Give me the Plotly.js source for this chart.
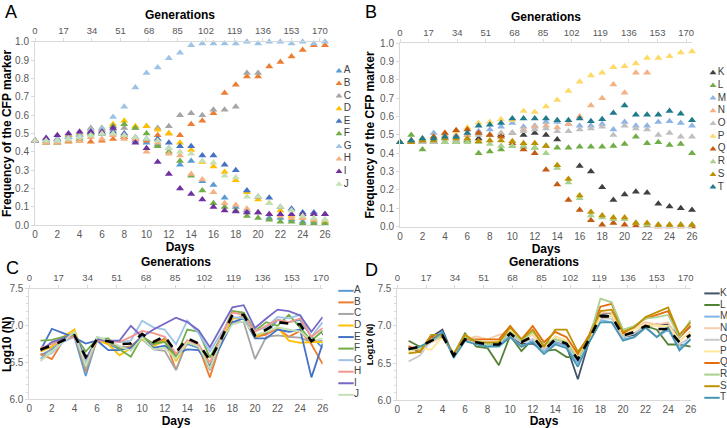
<!DOCTYPE html>
<html>
<head>
<meta charset="utf-8">
<script src="https://cdn.plot.ly/plotly-3.0.1.min.js"></script>
<style>
  body { margin: 0; background: #fff; }
  #chart { width: 727px; height: 428px; }
</style>
</head>
<body>
<div id="chart"></div>
<script>
// sampling days and the generation ticks on the top axes
const days = [0,1,2,3,4,5,6,7,8,9,10,11,12,13,14,15,16,17,18,19,20,21,22,23,24,25,26]
const logDays = [1,2,3,4,5,6,7,8,9,10,11,12,13,14,15,16,17,18,19,20,21,22,23,24,25,26]
const genTicks = [0,17,34,51,68,85,102,119,136,153,170]
const dayTicks = [0,2,4,6,8,10,12,14,16,18,20,22,24,26]

const popsAJ = ['A','B','C','D','E','F','G','H','I','J']
const popsKT = ['K','L','M','N','O','P','Q','R','S','T']

// frequency of the CFP marker, populations A-J
const freq_A = [0.46,0.47,0.46,0.48,0.48,0.50,0.50,0.50,0.48,0.46,0.45,0.44,0.42,0.33,0.35,0.24,0.22,0.15,0.10,0.08,0.07,0.04,0.04,0.03,0.02,0.02,0.02]
const freq_B = [0.46,0.45,0.45,0.455,0.46,0.455,0.46,0.47,0.48,0.47,0.46,0.49,0.50,0.49,0.55,0.57,0.61,0.72,0.765,0.81,0.81,0.865,0.89,0.92,0.955,0.98,0.98]
const freq_C = [0.46,0.47,0.47,0.49,0.50,0.53,0.52,0.52,0.53,0.53,0.54,0.53,0.54,0.60,0.61,0.60,0.63,0.63,0.645,0.83,0.83,null,null,null,null,null,null]
const freq_D = [0.46,0.46,0.47,0.49,0.50,0.52,0.53,0.55,0.57,0.54,0.54,0.52,0.50,0.45,0.41,0.345,0.32,0.29,0.245,0.18,0.14,0.12,0.08,0.05,0.04,0.03,0.02]
const freq_E = [0.46,0.46,0.47,0.48,0.49,0.51,0.50,0.51,0.50,0.48,0.47,0.47,0.45,0.43,0.43,0.38,0.38,0.33,0.30,0.19,0.155,0.15,0.10,0.09,0.07,0.07,0.06]
const freq_F = [0.46,0.45,0.45,0.46,0.47,0.50,0.50,0.54,0.55,0.53,0.50,0.43,0.40,0.35,0.27,0.19,0.12,0.10,0.08,0.05,0.04,0.03,0.02,0.02,0.01,0.01,0.01]
const freq_G = [0.46,0.47,0.47,0.48,0.49,0.52,0.53,0.59,0.645,0.75,0.83,0.86,0.91,0.94,0.98,0.99,0.99,0.99,0.99,1.0,0.99,1.0,1.0,0.99,1.0,0.99,1.0]
const freq_H = [0.46,0.45,0.45,0.46,0.46,0.48,0.47,0.49,0.47,0.47,0.40,0.45,0.39,0.38,0.28,0.25,0.18,0.12,0.11,0.09,0.07,0.06,0.05,0.04,0.04,0.03,0.03]
const freq_I = [0.46,0.475,0.49,0.50,0.51,0.51,0.51,0.53,0.49,0.45,0.42,0.345,0.28,0.20,0.17,0.14,0.10,0.08,0.075,0.07,0.07,0.06,0.06,0.06,0.06,0.06,0.06]
const freq_J = [0.46,0.46,0.46,0.47,0.48,0.49,0.50,0.50,0.49,0.48,0.47,0.46,0.42,0.40,0.39,0.35,0.34,0.27,0.26,0.155,0.155,0.12,0.10,0.08,0.05,0.04,0.03]

// frequency of the CFP marker, populations K-T
const freq_K = [0.46,0.46,0.46,0.46,0.46,0.46,0.47,0.48,0.50,0.50,0.51,0.50,0.51,0.50,0.475,null,0.33,0.30,0.215,0.145,0.175,0.19,0.185,0.125,0.11,0.10,0.09]
const freq_L = [0.46,0.50,0.42,0.46,0.46,0.47,0.47,0.40,0.41,0.42,0.44,0.435,0.43,0.44,0.43,0.43,0.435,0.435,0.435,0.44,0.45,0.49,0.455,0.46,0.445,0.45,0.40]
const freq_M = [0.46,0.47,0.47,0.51,0.48,0.49,0.50,0.52,0.53,0.545,0.565,0.545,0.55,0.57,0.57,0.56,0.55,0.55,0.56,0.53,0.57,0.55,0.55,0.57,0.575,0.565,0.55]
const freq_N = [0.46,0.47,0.47,0.48,0.50,0.50,0.50,0.51,0.50,0.51,0.51,0.53,0.545,0.55,0.54,0.56,0.60,0.66,0.70,0.775,0.73,0.84,0.84,null,null,null,null]
const freq_O = [0.46,0.46,0.46,0.46,0.46,0.47,0.48,0.50,0.50,0.51,0.51,0.52,0.53,0.535,0.52,0.52,0.53,0.535,0.545,0.50,0.55,0.535,0.53,0.50,0.51,0.49,0.49]
const freq_P = [0.46,0.47,0.48,0.49,0.51,0.52,0.54,0.565,0.57,0.585,0.58,0.63,0.625,0.655,0.69,0.74,0.79,0.825,0.84,0.87,0.875,0.89,0.92,0.92,0.93,0.95,0.955]
const freq_Q = [0.46,0.47,0.47,0.49,0.51,0.525,0.53,0.51,0.50,0.49,0.455,0.42,0.40,0.31,0.23,0.145,0.09,0.035,0.01,0.02,0.01,0.005,0.005,0,0,0,0]
const freq_R = [0.46,0.47,0.47,0.47,0.46,0.46,0.46,0.46,0.45,0.44,0.44,0.44,0.43,0.40,0.32,0.24,0.155,0.06,0.05,0.04,0.04,0.02,0.01,0.01,0.01,0.01,0.01]
const freq_S = [0.46,0.46,0.47,0.47,0.48,0.48,0.48,0.465,0.47,0.47,0.465,0.455,0.455,0.44,0.335,0.26,0.17,0.08,0.06,0.05,0.05,0.02,0.02,0.01,0.01,0.01,0.01]
const freq_T = [0.46,0.47,0.48,0.48,0.49,0.49,0.51,0.55,0.555,0.565,0.59,0.59,0.59,0.59,0.58,0.58,0.59,0.575,0.585,0.62,0.66,0.61,0.61,0.61,0.63,0.615,0.58]

// Log10 (N), populations A-J, days 1-26
const logN_A = [6.60,6.68,6.82,6.85,6.32,6.82,6.75,6.68,6.72,6.86,6.74,6.83,6.60,6.75,6.70,6.42,6.75,7.10,7.12,6.85,6.90,7.08,7.05,7.08,6.85,6.70]
const logN_B = [6.62,6.55,6.80,6.90,6.38,6.82,6.78,6.70,6.72,6.85,6.76,6.82,6.40,6.80,6.72,6.30,6.78,7.10,7.12,6.85,6.88,6.97,6.85,6.93,6.75,6.48]
const logN_C = [6.55,6.70,6.80,6.92,6.40,6.80,6.78,6.72,6.70,6.82,6.68,6.66,6.40,6.78,6.72,6.40,6.75,7.05,7.05,6.55,6.85,6.87,6.85,6.84,6.78,6.80]
const logN_D = [6.65,6.72,6.85,6.95,6.50,6.80,6.75,6.60,6.70,6.82,6.72,6.80,6.52,6.78,6.72,6.45,6.78,7.10,7.10,6.85,6.92,6.98,6.80,6.77,6.78,6.78]
const logN_E = [6.67,6.96,6.90,6.84,6.76,6.80,6.67,6.67,6.70,6.85,6.70,6.73,6.62,6.68,6.67,6.45,6.75,7.05,7.10,6.83,6.83,6.95,6.92,6.95,6.30,6.76]
const logN_F = [6.80,6.81,6.85,6.88,6.65,6.82,6.83,6.68,6.58,6.85,6.76,6.78,6.58,6.95,6.92,6.57,6.85,7.20,7.18,6.93,7.05,7.00,7.15,6.98,6.80,6.93]
const logN_G = [6.55,6.63,6.78,6.85,6.50,6.85,6.80,6.78,6.80,7.07,6.98,6.95,6.75,7.07,6.90,6.65,6.90,7.12,7.10,6.93,6.98,7.12,7.10,7.15,6.85,7.05]
const logN_H = [6.70,6.75,6.82,6.85,6.55,6.80,6.80,6.78,6.85,6.93,6.90,6.85,6.62,6.80,6.75,6.50,6.85,7.18,7.15,6.92,7.00,7.08,7.05,7.10,6.85,6.97]
const logN_I = [6.66,6.78,6.83,6.90,6.55,6.82,6.80,6.80,7.00,6.85,6.95,7.03,7.11,7.05,6.94,6.71,6.98,7.25,7.28,6.97,7.10,7.22,7.20,7.14,6.92,7.12]
const logN_J = [6.52,6.65,6.78,6.92,6.45,6.85,6.80,6.72,6.66,6.84,6.68,6.70,6.55,6.78,6.72,6.42,6.80,7.02,7.06,6.88,6.92,6.98,6.95,6.92,6.80,6.83]
const meanAJ = [6.68,6.73,6.80,6.87,6.58,6.82,6.79,6.75,6.76,6.89,6.78,6.86,6.64,6.83,6.76,6.53,6.82,7.15,7.15,6.87,6.95,7.05,7.03,7.02,6.79,6.89]

// Log10 (N), populations K-T, days 1-26
const logN_K = [6.70,6.65,6.85,6.95,6.58,6.85,6.78,6.75,6.73,6.88,6.76,6.76,6.67,6.78,6.73,6.28,6.80,7.15,7.18,6.85,6.88,7.00,7.02,7.02,6.85,7.00]
const logN_L = [6.80,6.72,6.80,6.85,6.62,6.90,6.72,6.70,6.47,6.87,6.66,6.82,6.66,6.68,6.58,6.58,6.78,7.10,7.15,6.88,6.90,7.00,6.95,6.75,6.75,6.72]
const logN_M = [6.68,6.70,6.78,6.88,6.58,6.80,6.76,6.72,6.75,6.85,6.72,6.80,6.65,6.78,6.72,6.50,6.80,7.08,7.05,6.82,6.85,6.98,6.85,6.95,6.70,6.82]
const logN_N = [6.72,6.70,6.78,6.85,6.62,6.82,6.86,6.82,6.88,6.92,6.80,6.88,6.70,6.86,6.80,6.58,6.85,7.18,7.18,6.90,6.98,7.05,7.02,7.05,6.80,6.92]
const logN_O = [6.52,6.60,6.80,6.88,6.60,6.80,6.78,6.75,6.78,6.88,6.78,6.82,6.68,6.82,6.75,6.55,6.80,7.10,7.10,6.85,6.90,7.00,6.85,7.00,6.75,6.85]
const logN_P = [6.65,6.70,6.68,6.85,6.62,6.88,6.80,6.78,6.80,6.95,6.80,6.90,6.72,6.85,6.80,6.58,6.82,7.12,7.15,6.88,6.95,7.02,7.00,7.00,6.80,6.92]
const logN_Q = [6.73,6.65,6.85,6.85,6.62,6.82,6.82,6.82,6.82,7.00,6.82,7.00,6.78,6.92,6.85,6.62,6.88,7.26,7.30,6.90,7.00,7.10,7.15,7.20,6.85,7.00]
const logN_R = [6.70,6.68,6.80,6.87,6.60,6.85,6.80,6.75,6.78,6.92,6.80,6.92,6.75,6.82,6.78,6.55,6.82,7.37,7.32,6.95,7.00,7.10,7.12,7.15,6.85,7.08]
const logN_S = [6.63,6.65,6.88,6.88,6.62,6.88,6.78,6.78,6.78,6.98,6.82,6.95,6.72,6.95,6.95,6.65,6.85,7.20,7.22,6.92,6.98,7.12,7.18,7.25,6.88,7.05]
const logN_T = [6.68,6.72,6.80,6.92,6.57,6.80,6.75,6.72,6.72,6.85,6.72,6.78,6.62,6.75,6.70,6.45,6.78,7.05,7.05,6.80,6.85,6.98,6.85,6.98,6.67,6.82]
const meanKT = [6.69,6.72,6.80,6.87,6.60,6.82,6.78,6.75,6.75,6.90,6.78,6.86,6.67,6.82,6.76,6.55,6.82,7.13,7.13,6.87,6.92,7.00,6.96,6.96,6.78,6.88]

const colorsA = ['#5b9bd5','#ed7d31','#a5a5a5','#ffc000','#4472c4','#70ad47','#9dc3e6','#f4b183','#7030a0','#c5e0b4']
const colorsB = ['#404040','#70ad47','#8fb4e3','#f4b183','#bfbfbf','#ffd966','#c55a11','#a9d18e','#bf9000','#1f7a8c']
const colorsC = ['#5b9bd5','#ed7d31','#a5a5a5','#ffc000','#4472c4','#70ad47','#9dc3e6','#f4978e','#7469c7','#c5e0b4']
const colorsD = ['#44546a','#548235','#7fb6e8','#f8cbad','#c9c9c9','#ffe699','#e46c0a','#a9d18e','#bf9000','#4596b0']

const FONT = 'Liberation Sans, Arial, sans-serif'
const AXIS_GREY = '#d9d9d9'
const TICK_GREY = '#595959'

function markerTraces(names, series, colors, xa, ya) {
  return names.map((name, i) => ({
    type: 'scatter', mode: 'markers', name, x: days, y: series[i],
    xaxis: xa, yaxis: ya, showlegend: false, cliponaxis: false, hoverinfo: 'skip',
    marker: {symbol: 'triangle-up', size: 7, color: colors[i], line: {width: 0}}
  }))
}

function lineTraces(names, series, colors, mean, xa, ya) {
  const t = names.map((name, i) => ({
    type: 'scatter', mode: 'lines', name, x: logDays, y: series[i],
    xaxis: xa, yaxis: ya, showlegend: false, hoverinfo: 'skip',
    line: {color: colors[i], width: 1.8}
  }))
  t.push({
    type: 'scatter', mode: 'lines', name: 'mean', x: logDays, y: mean,
    xaxis: xa, yaxis: ya, showlegend: false, hoverinfo: 'skip',
    line: {color: '#000', width: 2.6, dash: 'dash'}
  })
  return t
}

// empty trace so the generations axis on top gets drawn
function genHolder(xa, ya) {
  return {
    type: 'scatter', mode: 'markers', x: genTicks, y: genTicks.map(() => null),
    xaxis: xa, yaxis: ya, showlegend: false, hoverinfo: 'skip'
  }
}

// hand-made legend: one key per population on its own hidden category axis
function keyTrace(names, colors, xa, ya, lineKey) {
  return {
    type: 'scatter', mode: 'markers+text', x: names.map(() => 0), y: names, text: names,
    textposition: 'middle right', textfont: {size: 10, color: '#404040', family: FONT},
    xaxis: xa, yaxis: ya, showlegend: false, cliponaxis: false, hoverinfo: 'skip',
    marker: lineKey
      ? {symbol: 'line-ew', size: 11, line: {width: 2, color: colors}}
      : {symbol: 'triangle-up', size: 6, color: colors}
  }
}

function daysAxis(domain, anchor) {
  return {
    domain, anchor, range: [0, 26], tickvals: dayTicks, showline: true, linecolor: AXIS_GREY,
    ticks: '', showgrid: false, zeroline: false,
    tickfont: {size: 10, color: TICK_GREY},
    title: {text: '<b>Days</b>', font: {size: 12, color: '#000'}, standoff: 2}
  }
}

function gensAxis(over, anchor, maxGen) {
  return {
    overlaying: over, anchor, side: 'top', range: [0, maxGen], tickvals: genTicks,
    showline: true, linecolor: AXIS_GREY, ticks: 'outside', ticklen: 3, tickcolor: AXIS_GREY,
    showgrid: false, zeroline: false,
    tickfont: {size: 9.5, color: TICK_GREY},
    title: {text: '<b>Generations</b>', font: {size: 12, color: '#000'}, standoff: 2}
  }
}

function freqAxis(domain, anchor) {
  return {
    domain, anchor, range: [0, 1], dtick: 0.1, tickformat: '.1f', showline: true, linecolor: AXIS_GREY,
    ticks: 'outside', ticklen: 3, tickcolor: AXIS_GREY, showgrid: false, zeroline: false,
    tickfont: {size: 10, color: TICK_GREY},
    title: {text: '<b>Frequency of the CFP marker</b>', font: {size: 12, color: '#000'}, standoff: 2}
  }
}

function logAxis(domain, anchor, titleSize) {
  return {
    domain, anchor, range: [6, 7.5], tickvals: [6, 6.5, 7, 7.5], tickformat: '.1f', showline: true,
    linecolor: AXIS_GREY, ticks: 'outside', ticklen: 3, tickcolor: AXIS_GREY, showgrid: false, zeroline: false,
    minor: {dtick: 0.1, ticks: 'outside', ticklen: 2, tickcolor: AXIS_GREY},
    tickfont: {size: 10, color: TICK_GREY},
    title: {text: '<b>Log10 (N)</b>', font: {size: titleSize, color: '#000'}, standoff: 2}
  }
}

function keyAxes(xDomain, yDomain, names) {
  return [
    {domain: xDomain, range: [0, 1], visible: false, fixedrange: true},
    {domain: yDomain, type: 'category', categoryarray: names, range: [names.length - 0.5, -0.5], visible: false, fixedrange: true}
  ]
}

const data = [
  genHolder('x2', 'y'), genHolder('x4', 'y2'), genHolder('x6', 'y3'), genHolder('x8', 'y4'),
  ...markerTraces(popsAJ, [freq_A, freq_B, freq_C, freq_D, freq_E, freq_F, freq_G, freq_H, freq_I, freq_J], colorsA, 'x', 'y'),
  ...markerTraces(popsKT, [freq_K, freq_L, freq_M, freq_N, freq_O, freq_P, freq_Q, freq_R, freq_S, freq_T], colorsB, 'x3', 'y2'),
  ...lineTraces(popsAJ, [logN_A, logN_B, logN_C, logN_D, logN_E, logN_F, logN_G, logN_H, logN_I, logN_J], colorsC, meanAJ, 'x5', 'y3'),
  ...lineTraces(popsKT, [logN_K, logN_L, logN_M, logN_N, logN_O, logN_P, logN_Q, logN_R, logN_S, logN_T], colorsD, meanKT, 'x7', 'y4'),
  keyTrace(popsAJ, colorsA, 'x9', 'y5', false),
  keyTrace(popsKT, colorsB, 'x10', 'y6', false),
  keyTrace(popsAJ, colorsC, 'x11', 'y7', true),
  keyTrace(popsKT, colorsD, 'x12', 'y8', true)
]

const [kxA, kyA] = keyAxes([339/727, 370/727], [0.555, 0.849], popsAJ)
const [kxB, kyB] = keyAxes([713/727, 727/727], [0.548, 0.845], popsKT)
const [kxC, kyC] = keyAxes([346/727, 370/727], [0.064, 0.334], popsAJ)
const [kxD, kyD] = keyAxes([712/727, 727/727], [0.057, 0.328], popsKT)

const letter = (t, x, y) => ({
  text: t, xref: 'paper', yref: 'paper', x, y, xanchor: 'left', yanchor: 'top',
  showarrow: false, font: {size: 18, color: '#000', family: FONT}
})

const layout = {
  width: 727, height: 428,
  margin: {l: 0, r: 0, t: 0, b: 0},
  paper_bgcolor: '#fff', plot_bgcolor: 'rgba(0,0,0,0)',
  font: {family: FONT},
  showlegend: false,
  xaxis: daysAxis([35/727, 325/727], 'y'),
  xaxis2: gensAxis('x', 'y', 173),
  yaxis: freqAxis([0.4736, 0.9026], 'x'),
  xaxis3: daysAxis([400/727, 692/727], 'y2'),
  xaxis4: gensAxis('x3', 'y2', 173.5),
  yaxis2: freqAxis([0.4706, 0.8988], 'x3'),
  xaxis5: daysAxis([29.3/727, 322.7/727], 'y3'),
  xaxis6: gensAxis('x5', 'y3', 171),
  yaxis3: logAxis([0.0666, 0.3248], 'x5', 12),
  xaxis7: daysAxis([397.3/727, 690.7/727], 'y4'),
  xaxis8: gensAxis('x7', 'y4', 173),
  yaxis4: logAxis([0.0654, 0.3248], 'x7', 9),
  xaxis9: {...kxA, anchor: 'y5'}, yaxis5: {...kyA, anchor: 'x9'},
  xaxis10: {...kxB, anchor: 'y6'}, yaxis6: {...kyB, anchor: 'x10'},
  xaxis11: {...kxC, anchor: 'y7'}, yaxis7: {...kyC, anchor: 'x11'},
  xaxis12: {...kxD, anchor: 'y8'}, yaxis8: {...kyD, anchor: 'x12'},
  annotations: [
    letter('A', 0.004, 1.0),
    letter('B', 0.499, 1.0),
    letter('C', 0.006, 0.402),
    letter('D', 0.499, 0.398)
  ]
}

Plotly.newPlot('chart', data, layout, {displayModeBar: false, staticPlot: true})
</script>
</body>
</html>
